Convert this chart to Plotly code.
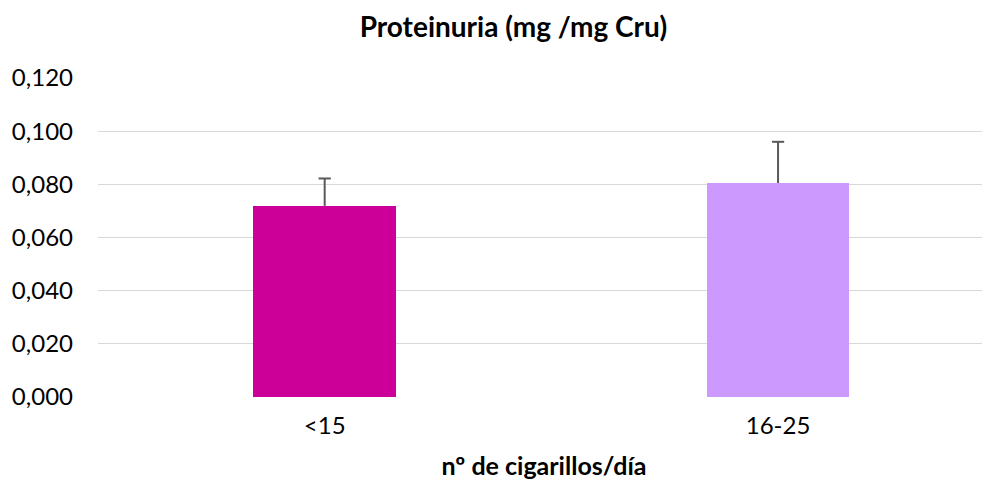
import plotly.graph_objects as go

categories = ["<15", "16-25"]
values = [0.0719, 0.0805]
errors_plus = [0.0103, 0.0155]
bar_colors = ["#CC0099", "#CC99FF"]
y_ticks = [0.0, 0.02, 0.04, 0.06, 0.08, 0.10, 0.12]

FONT = "Lato, 'Open Sans', sans-serif"
x_pos = list(range(len(categories)))
CAP = 0.0135  # half cap width in category units

fig = go.Figure()
fig.add_trace(go.Bar(
    x=x_pos,
    y=values,
    width=0.315,
    marker=dict(color=bar_colors, line=dict(width=0)),
    showlegend=False,
    hoverinfo="skip",
))

# positive-only error bars (no lower cap), built from the data arrays
ex, ey = [], []
for xi, v, e in zip(x_pos, values, errors_plus):
    ex += [xi, xi, None, xi - CAP, xi + CAP, None]
    ey += [v, v + e, None, v + e, v + e, None]
fig.add_trace(go.Scatter(
    x=ex, y=ey, mode="lines",
    line=dict(color="#595959", width=2),
    showlegend=False, hoverinfo="skip", connectgaps=False,
))

# page body has an 8px margin; layout compensates for it
fig.update_layout(
    width=990, height=482,
    margin=dict(l=90, r=8, t=70, b=93),
    paper_bgcolor="white", plot_bgcolor="white",
    separators=",.",
    font=dict(family=FONT, size=24, color="#000000"),
    title=dict(text="<b>Proteinuria (mg /mg Cru)</b>", x=505.5 / 990, xanchor="center",
               y=1 - 19.5 / 482, yanchor="middle", yref="container",
               font=dict(family=FONT, size=28, color="#000000")),
    bargap=0,
)
fig.update_xaxes(
    tickmode="array", tickvals=x_pos, ticktext=categories,
    range=[-0.5, 1.4675], showgrid=False, zeroline=False, showline=False,
    ticks="", ticklabelstandoff=12, automargin=False,
    title=dict(text="<b>nº de cigarillos/día</b>", standoff=19,
               font=dict(family=FONT, size=25)),
)
fig.update_yaxes(
    range=[0, 0.12], tickvals=y_ticks, tickformat=".3f",
    showgrid=True, gridcolor="#D9D9D9", gridwidth=1.3,
    zeroline=False, showline=False, ticks="", ticklabelstandoff=24,
    automargin=False,
)

fig.write_html("out.html")
